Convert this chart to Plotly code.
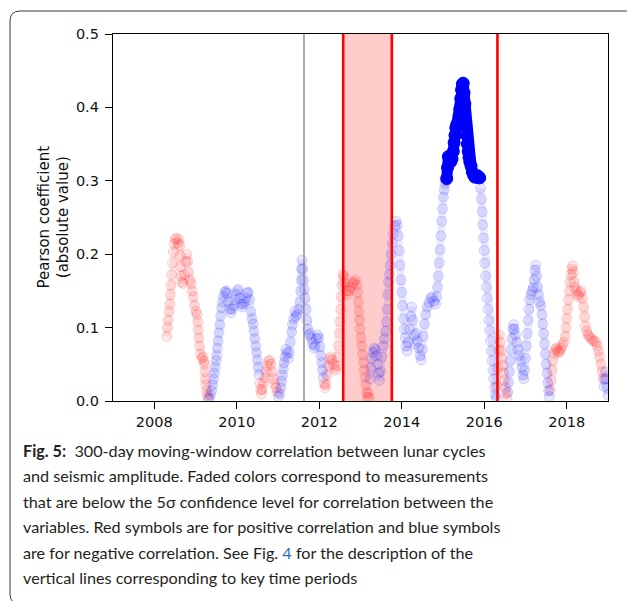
import plotly.graph_objects as go

W, H = 627, 601
# plot box in pixels (left, right, top, bottom)
L, R, T, B = 113, 608, 34, 401

# |Pearson r|, faded symbols, positive correlation (red)
red_year = [
    2008.30, 2008.32, 2008.34, 2008.36, 2008.38, 2008.39, 2008.40, 2008.42, 2008.44, 2008.46,
    2008.48, 2008.51, 2008.54, 2008.57, 2008.60, 2008.62, 2008.63, 2008.64, 2008.65, 2008.67,
    2008.70, 2008.73, 2008.76, 2008.79, 2008.81, 2008.83, 2008.86, 2008.89, 2008.92, 2008.95,
    2008.98, 2009.01, 2009.04, 2009.06, 2009.07, 2009.08, 2009.10, 2009.12, 2009.15, 2009.18,
    2009.21, 2009.22, 2009.23, 2009.24, 2009.25, 2009.27, 2009.29, 2009.31,
    2010.56, 2010.58, 2010.60, 2010.62, 2010.65, 2010.68, 2010.71, 2010.74, 2010.77, 2010.80,
    2010.83, 2010.86, 2010.89, 2010.92, 2010.95, 2010.98,
    2012.12, 2012.14, 2012.16, 2012.19, 2012.22, 2012.25, 2012.28, 2012.31, 2012.34, 2012.37,
    2012.40, 2012.43, 2012.45, 2012.47, 2012.49, 2012.50, 2012.52, 2012.53, 2012.55, 2012.57,
    2012.60, 2012.63, 2012.66, 2012.69, 2012.72, 2012.76, 2012.80, 2012.84, 2012.88, 2012.91,
    2012.93, 2012.95, 2012.96, 2012.98, 2012.99, 2013.01, 2013.03, 2013.05, 2013.07, 2013.09,
    2013.11, 2013.13, 2013.15, 2013.17, 2013.19, 2013.21,
    2016.31, 2016.33, 2016.35, 2016.37, 2016.39, 2016.41, 2016.43, 2016.45, 2016.47, 2016.49,
    2016.51, 2016.53, 2016.55,
    2017.60, 2017.62, 2017.64, 2017.66, 2017.69, 2017.72, 2017.75, 2017.78, 2017.81, 2017.84,
    2017.87, 2017.90, 2017.93, 2017.96, 2017.98, 2018.00, 2018.02, 2018.04, 2018.06, 2018.08,
    2018.10, 2018.12, 2018.14, 2018.16, 2018.18, 2018.20, 2018.23, 2018.26, 2018.29, 2018.32,
    2018.35, 2018.38, 2018.41, 2018.43, 2018.45, 2018.48, 2018.51, 2018.55, 2018.59, 2018.63,
    2018.67, 2018.71, 2018.74, 2018.77, 2018.80, 2018.83, 2018.86, 2018.88,
]
red_r = [
    0.088, 0.100, 0.110, 0.122, 0.132, 0.145, 0.158, 0.172, 0.188, 0.203,
    0.214, 0.220, 0.222, 0.215, 0.220, 0.212, 0.198, 0.183, 0.170, 0.162,
    0.160, 0.172, 0.190, 0.200, 0.190, 0.175, 0.165, 0.160, 0.150, 0.142,
    0.130, 0.122, 0.118, 0.108, 0.097, 0.086, 0.075, 0.064, 0.058, 0.060,
    0.054, 0.050, 0.040, 0.030, 0.022, 0.014, 0.008, 0.004,
    0.024, 0.015, 0.010, 0.016, 0.025, 0.032, 0.040, 0.048, 0.054, 0.056,
    0.050, 0.040, 0.030, 0.024, 0.018, 0.012,
    0.024, 0.018, 0.022, 0.035, 0.048, 0.057, 0.060, 0.056, 0.050, 0.045,
    0.042, 0.048, 0.060, 0.075, 0.092, 0.108, 0.125, 0.142, 0.158, 0.172,
    0.170, 0.160, 0.150, 0.145, 0.150, 0.155, 0.160, 0.162, 0.165, 0.158,
    0.148, 0.135, 0.122, 0.110, 0.098, 0.086, 0.075, 0.063, 0.052, 0.042,
    0.032, 0.022, 0.012, 0.005, 0.010, 0.004,
    0.020, 0.045, 0.070, 0.090, 0.080, 0.068, 0.058, 0.048, 0.038, 0.028,
    0.018, 0.010, 0.004,
    0.015, 0.028, 0.042, 0.055, 0.065, 0.070, 0.072, 0.068, 0.066, 0.068,
    0.072, 0.076, 0.080, 0.088, 0.100, 0.112, 0.125, 0.138, 0.150, 0.162,
    0.172, 0.180, 0.184, 0.175, 0.162, 0.155, 0.150, 0.145, 0.142, 0.148,
    0.150, 0.140, 0.128, 0.115, 0.102, 0.095, 0.090, 0.088, 0.085, 0.082,
    0.082, 0.080, 0.075, 0.068, 0.060, 0.050, 0.040, 0.030,
]

# faded symbols, negative correlation (blue)
blue_year = [
    2009.33, 2009.36, 2009.39, 2009.42, 2009.44, 2009.46, 2009.48, 2009.50, 2009.52, 2009.53,
    2009.55, 2009.57, 2009.59, 2009.61, 2009.63, 2009.65, 2009.68, 2009.71, 2009.74, 2009.77,
    2009.80, 2009.83, 2009.86, 2009.89, 2009.92, 2009.95, 2009.98, 2010.01, 2010.04, 2010.07,
    2010.10, 2010.13, 2010.16, 2010.19, 2010.22, 2010.25, 2010.28, 2010.31, 2010.34, 2010.37,
    2010.40, 2010.42, 2010.44, 2010.46, 2010.48, 2010.50, 2010.52, 2010.54,
    2011.01, 2011.04, 2011.07, 2011.09, 2011.11, 2011.13, 2011.15, 2011.17, 2011.19, 2011.22,
    2011.25, 2011.28, 2011.30, 2011.33, 2011.35, 2011.38, 2011.41, 2011.44, 2011.47, 2011.50,
    2011.53, 2011.55, 2011.56, 2011.57, 2011.58, 2011.60, 2011.62, 2011.64, 2011.66, 2011.68,
    2011.70, 2011.72, 2011.75, 2011.78, 2011.81, 2011.84, 2011.87, 2011.90, 2011.93, 2011.96,
    2011.99, 2012.02, 2012.04, 2012.06, 2012.08, 2012.10,
    2013.23, 2013.25, 2013.27, 2013.30, 2013.33, 2013.36, 2013.39, 2013.42, 2013.44, 2013.46,
    2013.49, 2013.52, 2013.55, 2013.58, 2013.61, 2013.63, 2013.65, 2013.66, 2013.68, 2013.70,
    2013.72, 2013.74, 2013.77, 2013.80, 2013.83, 2013.86, 2013.89, 2013.92, 2013.94, 2013.96,
    2013.98, 2014.00, 2014.02, 2014.04, 2014.06, 2014.08, 2014.10, 2014.13, 2014.16, 2014.19,
    2014.22, 2014.24, 2014.27, 2014.30, 2014.32, 2014.35, 2014.38, 2014.41, 2014.44, 2014.47,
    2014.50, 2014.52, 2014.55, 2014.58, 2014.62, 2014.66, 2014.70, 2014.74, 2014.78, 2014.82,
    2014.85, 2014.87, 2014.89, 2014.91, 2014.93, 2014.95, 2014.97, 2014.99, 2015.01, 2015.03,
    2015.05, 2015.07,
    2015.91, 2015.93, 2015.95, 2015.96, 2015.98, 2016.00, 2016.01, 2016.03, 2016.05, 2016.07,
    2016.09, 2016.11, 2016.13, 2016.15, 2016.17, 2016.19, 2016.21, 2016.23, 2016.25, 2016.27,
    2016.29,
    2016.57, 2016.59, 2016.61, 2016.63, 2016.65, 2016.67, 2016.69, 2016.71, 2016.73, 2016.76,
    2016.79, 2016.82, 2016.85, 2016.88, 2016.91, 2016.94, 2016.96, 2016.98, 2017.00, 2017.02,
    2017.04, 2017.06, 2017.08, 2017.10, 2017.13, 2017.16, 2017.19, 2017.21, 2017.23, 2017.25,
    2017.27, 2017.29, 2017.31, 2017.34, 2017.37, 2017.40, 2017.42, 2017.44, 2017.46, 2017.48,
    2017.50, 2017.52, 2017.54, 2017.56, 2017.58,
    2018.90, 2018.92, 2018.94, 2018.96, 2018.98, 2019.00,
]
blue_r = [
    0.003, 0.008, 0.014, 0.022, 0.030, 0.038, 0.046, 0.055, 0.062, 0.072,
    0.082, 0.093, 0.104, 0.116, 0.127, 0.135, 0.142, 0.148, 0.150, 0.147,
    0.135, 0.125, 0.120, 0.125, 0.130, 0.138, 0.145, 0.150, 0.152, 0.140,
    0.132, 0.128, 0.132, 0.135, 0.140, 0.147, 0.148, 0.138, 0.122, 0.112,
    0.105, 0.095, 0.085, 0.075, 0.066, 0.056, 0.046, 0.036,
    0.006, 0.010, 0.018, 0.027, 0.035, 0.044, 0.052, 0.060, 0.070, 0.066,
    0.058, 0.066, 0.080, 0.094, 0.104, 0.112, 0.122, 0.115, 0.118, 0.125,
    0.135, 0.150, 0.165, 0.180, 0.192, 0.180, 0.165, 0.152, 0.140, 0.125,
    0.110, 0.098, 0.090, 0.092, 0.085, 0.078, 0.072, 0.075, 0.085, 0.090,
    0.086, 0.074, 0.062, 0.052, 0.042, 0.032,
    0.030, 0.045, 0.058, 0.066, 0.072, 0.070, 0.062, 0.050, 0.038, 0.028,
    0.040, 0.060, 0.075, 0.085, 0.095, 0.108, 0.125, 0.145, 0.162, 0.172,
    0.185, 0.200, 0.215, 0.228, 0.238, 0.245, 0.240, 0.225, 0.205, 0.185,
    0.165, 0.148, 0.130, 0.112, 0.098, 0.086, 0.075, 0.068, 0.080, 0.098,
    0.115, 0.128, 0.110, 0.090, 0.078, 0.092, 0.082, 0.072, 0.062, 0.056,
    0.070, 0.088, 0.105, 0.118, 0.128, 0.134, 0.140, 0.142, 0.136, 0.132,
    0.142, 0.155, 0.170, 0.188, 0.206, 0.225, 0.245, 0.262, 0.278, 0.288,
    0.296, 0.300,
    0.290, 0.275, 0.258, 0.240, 0.222, 0.205, 0.188, 0.170, 0.155, 0.140,
    0.125, 0.110, 0.096, 0.082, 0.068, 0.055, 0.042, 0.030, 0.018, 0.008,
    0.003,
    0.012, 0.025, 0.040, 0.055, 0.070, 0.085, 0.098, 0.104, 0.098, 0.090,
    0.080, 0.070, 0.062, 0.055, 0.045, 0.035, 0.030, 0.042, 0.058, 0.075,
    0.092, 0.110, 0.125, 0.138, 0.145, 0.150, 0.155, 0.165, 0.178, 0.185,
    0.170, 0.155, 0.145, 0.135, 0.130, 0.118, 0.105, 0.092, 0.078, 0.064,
    0.050, 0.038, 0.025, 0.014, 0.006,
    0.020, 0.030, 0.040, 0.030, 0.018, 0.008,
]

# above the 5-sigma level (solid blue)
sig_year = [
    2015.09, 2015.11, 2015.13, 2015.16, 2015.19, 2015.22, 2015.25, 2015.27, 2015.29, 2015.31,
    2015.33, 2015.36, 2015.39, 2015.41, 2015.43, 2015.45, 2015.47, 2015.49, 2015.51, 2015.53,
    2015.55, 2015.57, 2015.59, 2015.61, 2015.63, 2015.65, 2015.68, 2015.71, 2015.74, 2015.77,
    2015.80, 2015.83, 2015.86, 2015.89,
]
sig_r = [
    0.303, 0.318, 0.333, 0.330, 0.326, 0.330, 0.340, 0.352, 0.362, 0.372,
    0.376, 0.380, 0.388, 0.398, 0.412, 0.424, 0.432, 0.433, 0.420, 0.405,
    0.375, 0.362, 0.350, 0.340, 0.332, 0.326, 0.320, 0.312, 0.308, 0.305,
    0.306, 0.305, 0.306, 0.304,
]

gray_line = 2011.63
red_lines = [2012.58, 2013.76, 2016.32]
shade_from, shade_to = 2012.58, 2013.76
x_ticks = [2008, 2010, 2012, 2014, 2016, 2018]
y_ticks = [0.0, 0.1, 0.2, 0.3, 0.4, 0.5]

caption = [
    "<b>Fig. 5:</b>\u00a0 300-day moving-window correlation between lunar cycles",
    "and seismic amplitude. Faded colors correspond to measurements",
    "that are below the 5σ confidence level for correlation between the",
    "variables. Red symbols are for positive correlation and blue symbols",
    "are for negative correlation. See Fig. <span style='color:#2f6fc6'>4</span> for the description of the",
    "vertical lines corresponding to key time periods",
]
caption_y = [450, 475.5, 501, 526.5, 552, 577]


def px_x(px):
    return (px - L) / (R - L)


def px_y(py):
    return (B - py) / (B - T)


def with_breaks(xs, ys, gap=0.1):
    # put a None between runs so the trail line does not jump across gaps
    bx, by = [], []
    for i, (a, b) in enumerate(zip(xs, ys)):
        if i and a - xs[i - 1] > gap:
            bx.append(None)
            by.append(None)
        bx.append(a)
        by.append(b)
    return bx, by


fig = go.Figure()


def faded(x, y, rgb):
    bx, by = with_breaks(x, y)
    fig.add_trace(go.Scatter(
        x=bx, y=by, mode="lines", hoverinfo="skip",
        line=dict(color=f"rgba({rgb},0.08)", width=8),
    ))
    fig.add_trace(go.Scatter(
        x=x, y=y, mode="markers", hoverinfo="skip",
        marker=dict(size=10, color=f"rgba({rgb},0.09)",
                    line=dict(color=f"rgba({rgb},0.15)", width=1)),
    ))


faded(red_year, red_r, "255,0,0")
faded(blue_year, blue_r, "0,0,255")
fig.add_trace(go.Scatter(
    x=sig_year, y=sig_r, mode="lines+markers", hoverinfo="skip",
    line=dict(color="#0000ff", width=11),
    marker=dict(size=12, color="#0000ff", line=dict(color="#0000ff", width=1)),
))

shapes = [
    dict(type="rect", xref="x", yref="paper", x0=shade_from, x1=shade_to, y0=0, y1=1,
         fillcolor="rgba(255,0,0,0.2)", line=dict(width=0), layer="below"),
    dict(type="line", xref="x", yref="paper", x0=gray_line, x1=gray_line, y0=0, y1=1,
         line=dict(color="#808080", width=1.3), layer="above"),
]
for xv in red_lines:
    shapes.append(dict(type="line", xref="x", yref="paper", x0=xv, x1=xv, y0=0, y1=1,
                       line=dict(color="#ff0000", width=2.6), layer="above"))

# rounded caption box, partly running off the right and bottom edges
bx0, by0, bx1, by1, rad = 10, 11, 637, 604, 10
X = [px_x(v) for v in (bx0, bx0 + rad, bx1 - rad, bx1)]
Y = [px_y(v) for v in (by0, by0 + rad, by1 - rad, by1)]
box_path = (
    f"M {X[0]},{Y[1]} Q {X[0]},{Y[0]} {X[1]},{Y[0]} L {X[2]},{Y[0]} "
    f"Q {X[3]},{Y[0]} {X[3]},{Y[1]} L {X[3]},{Y[2]} Q {X[3]},{Y[3]} {X[2]},{Y[3]} "
    f"L {X[1]},{Y[3]} Q {X[0]},{Y[3]} {X[0]},{Y[2]} Z"
)
shapes.append(dict(type="path", xref="paper", yref="paper", path=box_path,
                   line=dict(color="#3a3a3a", width=1), layer="below"))

annotations = [
    dict(text="Pearson coefficient<br>(absolute value)", xref="paper", yref="paper",
         x=px_x(53), y=px_y(217.5), textangle=-90, showarrow=False,
         xanchor="center", yanchor="middle",
         font=dict(family="DejaVu Sans", size=15, color="#111111")),
]
for line, yc in zip(caption, caption_y):
    annotations.append(dict(text=line, xref="paper", yref="paper", x=px_x(21), y=px_y(yc),
                            xanchor="left", yanchor="middle", showarrow=False, align="left",
                            font=dict(family="Lato", size=16.2, color="#231f20")))

axis_common = dict(showgrid=False, zeroline=False, showline=True, mirror=True,
                   linecolor="black", linewidth=1.3, ticks="outside", ticklen=7,
                   tickwidth=1.3, tickcolor="black",
                   tickfont=dict(family="DejaVu Sans", size=14.5, color="#111111"))

fig.update_layout(
    width=W, height=H, showlegend=False,
    margin=dict(l=L, r=W - R, t=T, b=H - B, autoexpand=False),
    paper_bgcolor="white", plot_bgcolor="white",
    xaxis=dict(range=[2007, 2019], tickvals=x_ticks, ticktext=[str(v) for v in x_ticks],
               **axis_common),
    yaxis=dict(range=[0, 0.5], tickvals=y_ticks, tickformat=".1f", ticklabelstandoff=3,
               **axis_common),
    shapes=shapes, annotations=annotations,
)

# the page body has a default 8px margin; drop it so the figure sits at 0,0
fig.write_html("out.html", config={"displayModeBar": False},
               post_script="document.body.style.margin='0';")
